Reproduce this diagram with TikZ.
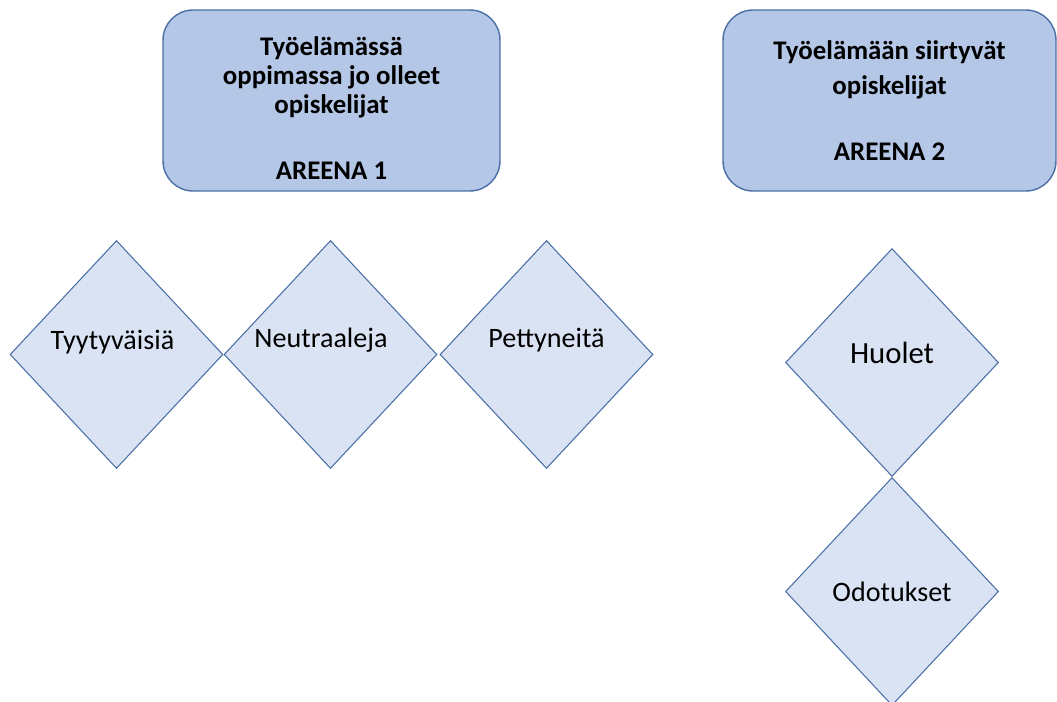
\documentclass[tikz,border=0pt]{standalone}
\usepackage{fontspec}
\setmainfont{Carlito}
\usetikzlibrary{shapes.geometric}
\definecolor{areenafill}{HTML}{B4C7E7}
\definecolor{teemafill}{HTML}{DAE3F3}
\definecolor{reuna}{HTML}{4A6FA5}

\begin{document}
\begin{tikzpicture}[x=0.02cm,y=-0.02cm,
  areena/.style={draw=reuna,fill=areenafill,rounded corners=0.6cm,minimum height=3.62cm,line width=0.8pt},
  otsikko/.style={align=center,font=\fontsize{15.3}{16.5}\selectfont\bfseries},
  teema/.style={diamond,draw=reuna,fill=teemafill,minimum width=4.26cm,minimum height=4.56cm,inner sep=0pt,line width=0.6pt},
  teksti/.style={font=\fontsize{16}{18}\selectfont}]
  \useasboundingbox (0,0) rectangle (1057,702);
  % areenat
  \draw (331.5,100.5) node[areena,minimum width=6.74cm] (A1) {};
  \draw (889.5,100.5) node[areena,minimum width=6.66cm] (A2) {};
  \node[otsikko] (A1t) at ([yshift=-0.16cm]A1.center) {Työelämässä\\oppimassa jo olleet\\opiskelijat\\[21pt]AREENA 1};
  \node[otsikko] (A2t) at (A2.center) {Työelämään siirtyvät\\[3.5pt]opiskelijat\\[20.5pt]AREENA 2};
  % areena 1
  \draw (116.5,354.5) node[teema] (T) {};
  \draw (330.5,354.5) node[teema] (N) {};
  \draw (546.5,354.5) node[teema] (P) {};
  \node[teksti] (Tt) at ([xshift=-0.08cm,yshift=0.25cm]T.center) {Tyytyväisiä};
  \node[teksti] (Nt) at ([xshift=-0.19cm,yshift=0.28cm]N.center) {Neutraaleja};
  \node[teksti] (Pt) at ([yshift=0.28cm]P.center) {Pettyneitä};
  % areena 2
  \draw (892,362.5) node[teema] (H) {};
  \draw (892,591.5) node[teema] (O) {};
  \node[teksti,font=\fontsize{17.5}{20}\selectfont] (Ht) at ([yshift=0.19cm]H.center) {Huolet};
  \node[teksti] (Ot) at (O.center) {Odotukset};
\end{tikzpicture}
\end{document}
